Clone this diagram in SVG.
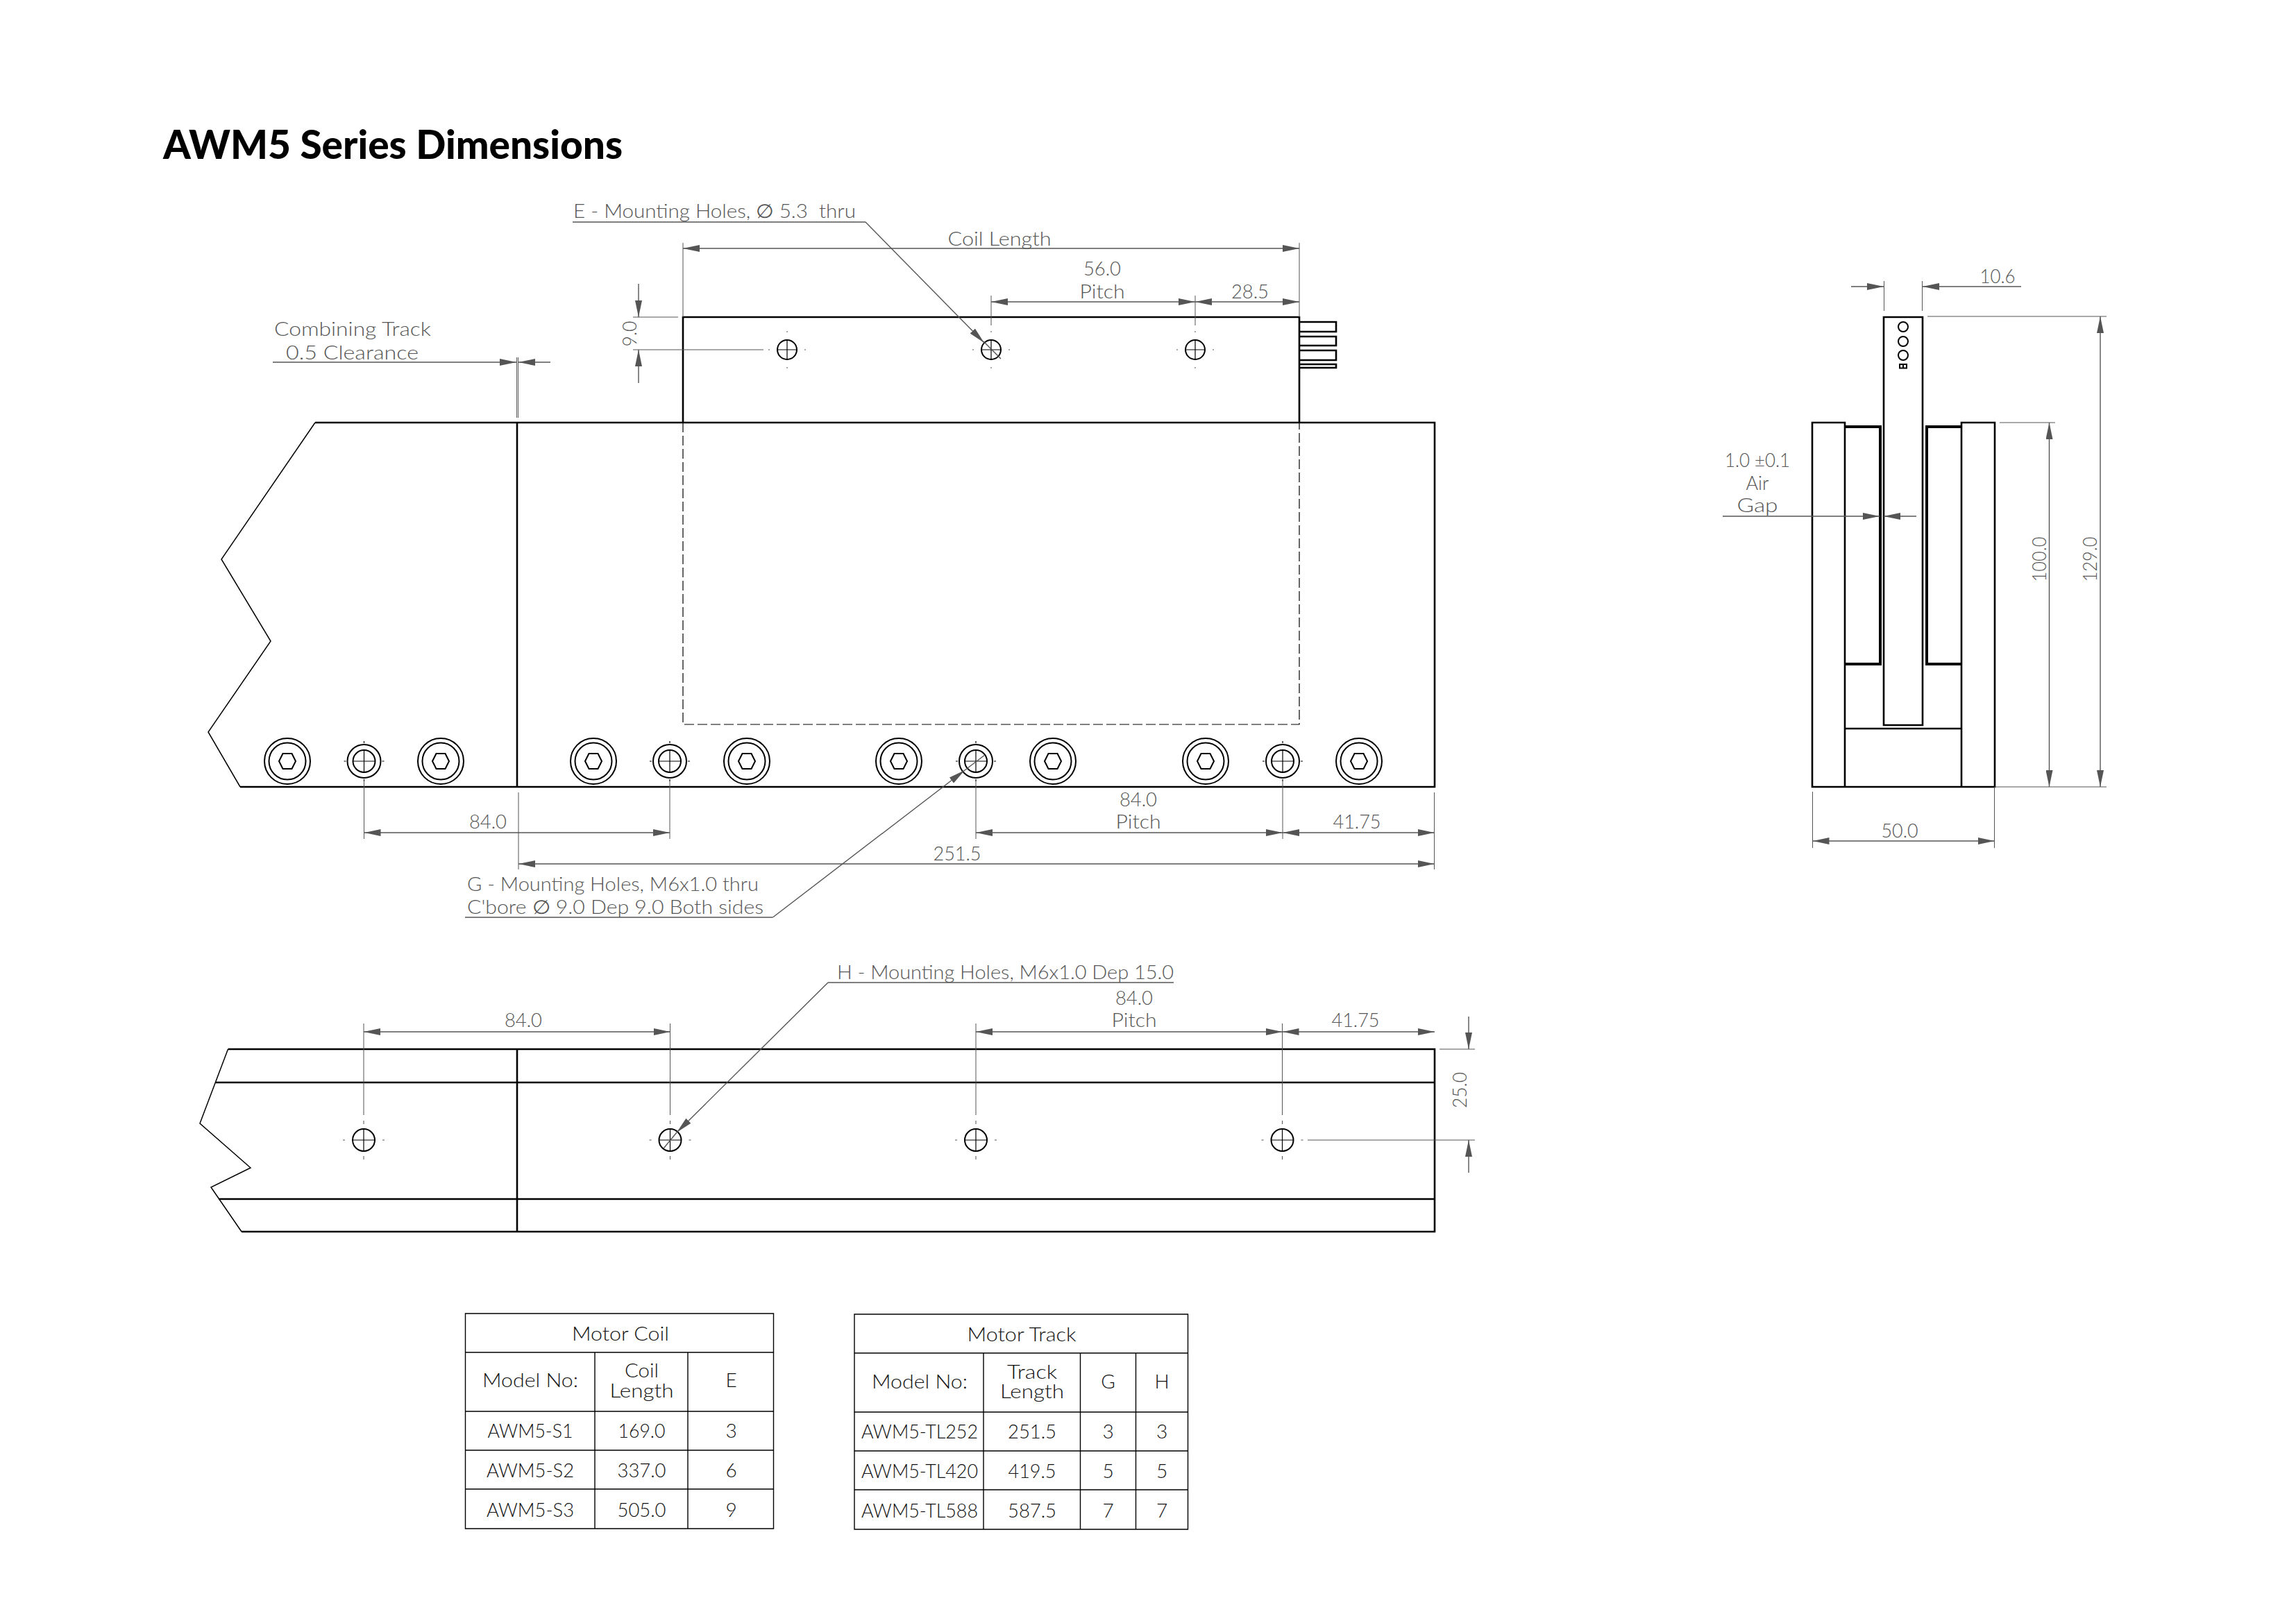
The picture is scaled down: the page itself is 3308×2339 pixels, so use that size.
<svg xmlns="http://www.w3.org/2000/svg" width="3308" height="2339" viewBox="0 0 3308 2339">
<style>
text{font-family:"Lato","Liberation Sans",sans-serif;font-weight:300;font-size:28px;fill:#555;white-space:pre;lengthAdjust:spacingAndGlyphs}
.c{text-anchor:middle}
.t text{fill:#111;font-size:28px}
#title{font-family:"Lato","Liberation Sans",sans-serif;font-weight:900;font-size:58px;fill:#000}
.o{fill:none;stroke:#000;stroke-width:2.6}
.m{fill:none;stroke:#000;stroke-width:4}
.s{fill:none;stroke:#000;stroke-width:1.2}
.p{fill:none;stroke:#000;stroke-width:1.5}
.h{fill:none;stroke:#000;stroke-width:2}
.x{fill:none;stroke:#555;stroke-width:1}
.d{fill:none;stroke:#555;stroke-width:1.4}
.a{marker-start:url(#ar);marker-end:url(#ar)}
.e{marker-end:url(#ar)}
.dash{fill:none;stroke:#000;stroke-width:1.2;stroke-dasharray:14 5}
.g{fill:none;stroke:#000;stroke-width:1.4}
</style>
<defs>
<marker id="ar" viewBox="0 0 24 10" refX="24" refY="5" markerWidth="24" markerHeight="10" markerUnits="userSpaceOnUse" orient="auto-start-reverse"><path d="M0,0 L24,5 L0,10 Z" fill="#555"/></marker>
<g id="screw"><circle r="33" class="h"/><circle r="26.5" class="h"/><path d="M-12,0 L-6.5,-11 H6.5 L12,0 L6.5,11 H-6.5 Z" class="h"/></g>
<g id="cb"><circle r="24" class="h"/><circle r="16" class="h"/><path d="M-16,0H16M0,-16V16M-29,0H-26M26,0H29M0,-29V-26M0,26V29" class="s"/></g>
<g id="ch"><circle r="14" class="h"/><path d="M-14,0H14M0,-14V14" class="s"/><path d="M-27,0H-25M25,0H27M0,-27V-25M0,25V27" class="x"/></g>
<g id="th"><circle r="16" class="h"/><path d="M-16,0H16M0,-16V16" class="s"/><path d="M-30,0H-27M27,0H30M0,-28V-23M0,23V28" class="x"/></g>
</defs>
<rect width="3308" height="2339" fill="#fff"/>
<text id="title" x="235" y="229" textLength="662" lengthAdjust="spacingAndGlyphs">AWM5 Series Dimensions</text>

<g id="front-view">
<path class="o" d="M454,609H2067V1134H346"/>
<path class="p" d="M454,609L319,806L390,924L300,1055L346,1134"/>
<path class="o" d="M745,609V1134"/>
<path class="o" d="M984,609V457H1872V609"/>
<path class="dash" d="M984,609V1044H1872V609"/>
<path class="o" d="M1872,464H1925V478H1872M1872,485H1925V498H1872M1872,505H1925V519H1872M1872,525H1925V530H1872"/>
<use href="#ch" x="1134" y="504"/><use href="#ch" x="1428" y="504"/><use href="#ch" x="1722" y="504"/>
<use href="#screw" x="414" y="1097"/><use href="#screw" x="635" y="1097"/><use href="#screw" x="855" y="1097"/><use href="#screw" x="1076" y="1097"/>
<use href="#screw" x="1295" y="1097"/><use href="#screw" x="1517" y="1097"/><use href="#screw" x="1737" y="1097"/><use href="#screw" x="1958" y="1097"/>
<use href="#cb" x="524.5" y="1097"/><use href="#cb" x="965" y="1097"/><use href="#cb" x="1406" y="1097"/><use href="#cb" x="1848" y="1097"/>
</g>

<g id="bottom-view">
<path class="o" d="M328.5,1512H2067V1775H348"/>
<path class="p" d="M328.5,1512L288,1619L361,1683L304,1711L348,1775"/>
<path class="o" d="M311,1560H2067M315,1728H2067M745,1512V1775"/>
<use href="#th" x="524" y="1643"/><use href="#th" x="965.5" y="1643"/><use href="#th" x="1406" y="1643"/><use href="#th" x="1847.5" y="1643"/>
</g>

<g id="side-view">
<path class="o" d="M2611,609H2658V1134H2611ZM2826,609H2874V1134H2826ZM2658,1134H2826M2658,1050H2826"/>
<path class="o" d="M2714,457H2770V1045H2714Z"/>
<path class="m" d="M2658,615H2709V957H2658M2826,615H2776V957H2826"/>
<circle class="h" cx="2742" cy="471" r="7"/><circle class="h" cx="2742" cy="492" r="7"/><circle class="h" cx="2742" cy="512" r="7"/>
<path class="h" d="M2737,525H2747V530.5H2737ZM2742,525V530.5"/>
</g>

<g id="connectors">
<path class="x" d="M984,350V457M1872,350V457M1428,426V469M1722,426V469M912,457H977M912,504H1100M744.5,515V602M746.5,515V602"/>
<path class="d a" d="M984,358H1872"/>
<path class="d a" d="M1428,435H1722"/>
<path class="d a" d="M1722,435H1872"/>
<path class="d e" d="M920,409V457"/><path class="d e" d="M920,552V504"/>
<path class="d e" d="M393,522H744"/><path class="d e" d="M793,522H747"/>
<path class="d" d="M825,320H1247"/><path class="d" d="M1417,492L1442,517"/><path class="d e" d="M1247,320L1418,494"/>
<path class="x" d="M524.5,1126V1209M965,1126V1209M1406,1126V1209M1848,1126V1209M747,1142V1253M2066.5,1142V1253"/>
<path class="d a" d="M524.5,1200H965"/><path class="d a" d="M1406,1200H1848"/><path class="d a" d="M1848,1200H2066.5"/><path class="d a" d="M747,1245H2066.5"/>
<path class="d" d="M670,1322H1113.5M1390,1110L1419,1088"/><path class="d e" d="M1113.5,1322L1390,1110"/>
<path class="x" d="M524,1475V1607M965.5,1475V1607M1406,1475V1607M1847.5,1475V1607M2074,1512H2125M1884,1643H2125"/>
<path class="d a" d="M524,1487H965.5"/><path class="d a" d="M1406,1487H1847.5"/><path class="d a" d="M1847.5,1487H2067"/>
<path class="d e" d="M2116,1465V1512"/><path class="d e" d="M2116,1690V1643"/>
<path class="d" d="M1691,1416H1193M975,1632L956,1655"/><path class="d e" d="M1193,1416L975,1632"/>
<path class="x" d="M2714.5,405V448M2769.5,405V448M2881,609H2961M2777,456H3035M2874,1134H3035M2611.5,1141V1222M2873.5,1134V1222"/>
<path class="d e" d="M2667,413H2714"/><path class="d e" d="M2912,413H2770"/>
<path class="d e" d="M2482,744H2708"/><path class="d e" d="M2761,744H2714"/>
<path class="d a" d="M2952.5,609V1134"/><path class="d a" d="M3026,456V1134"/><path class="d a" d="M2611.5,1212H2873.5"/>
</g>

<g id="labels">
<text x="826" y="314" textLength="407" lengthAdjust="spacingAndGlyphs">E - Mounting Holes, ∅ 5.3  thru</text>
<text class="c" x="1440" y="354" textLength="149" lengthAdjust="spacingAndGlyphs">Coil Length</text>
<text class="c" x="1588" y="397" textLength="54" lengthAdjust="spacingAndGlyphs">56.0</text><text class="c" x="1588" y="430" textLength="65" lengthAdjust="spacingAndGlyphs">Pitch</text>
<text class="c" x="1801" y="430" textLength="54" lengthAdjust="spacingAndGlyphs">28.5</text>
<text x="395" y="484" textLength="226" lengthAdjust="spacingAndGlyphs">Combining Track</text>
<text x="412" y="518" textLength="191" lengthAdjust="spacingAndGlyphs">0.5 Clearance</text>
<text class="c" transform="translate(917,481) rotate(-90)" textLength="37" lengthAdjust="spacingAndGlyphs">9.0</text>
<text class="c" x="703" y="1194" textLength="54" lengthAdjust="spacingAndGlyphs">84.0</text>
<text class="c" x="1640" y="1162" textLength="54" lengthAdjust="spacingAndGlyphs">84.0</text><text class="c" x="1640" y="1194" textLength="65" lengthAdjust="spacingAndGlyphs">Pitch</text>
<text class="c" x="1955" y="1194" textLength="69" lengthAdjust="spacingAndGlyphs">41.75</text>
<text class="c" x="1379" y="1240" textLength="69" lengthAdjust="spacingAndGlyphs">251.5</text>
<text x="673" y="1284" textLength="420" lengthAdjust="spacingAndGlyphs">G - Mounting Holes, M6x1.0 thru</text>
<text x="673" y="1317" textLength="427" lengthAdjust="spacingAndGlyphs">C'bore ∅ 9.0 Dep 9.0 Both sides</text>
<text x="1206" y="1411" textLength="485" lengthAdjust="spacingAndGlyphs">H - Mounting Holes, M6x1.0 Dep 15.0</text>
<text class="c" x="754" y="1480" textLength="54" lengthAdjust="spacingAndGlyphs">84.0</text>
<text class="c" x="1634" y="1448" textLength="54" lengthAdjust="spacingAndGlyphs">84.0</text><text class="c" x="1634" y="1480" textLength="65" lengthAdjust="spacingAndGlyphs">Pitch</text>
<text class="c" x="1953" y="1480" textLength="69" lengthAdjust="spacingAndGlyphs">41.75</text>
<text class="c" transform="translate(2113,1571) rotate(-90)" textLength="52" lengthAdjust="spacingAndGlyphs">25.0</text>
<text class="c" x="2878" y="408" textLength="51" lengthAdjust="spacingAndGlyphs">10.6</text>
<text class="c" x="2532" y="673" textLength="94" lengthAdjust="spacingAndGlyphs">1.0 ±0.1</text><text class="c" x="2532" y="706" textLength="33" lengthAdjust="spacingAndGlyphs">Air</text><text class="c" x="2532" y="738" textLength="59" lengthAdjust="spacingAndGlyphs">Gap</text>
<text class="c" transform="translate(2948,806) rotate(-90)" textLength="65" lengthAdjust="spacingAndGlyphs">100.0</text>
<text class="c" transform="translate(3021,806) rotate(-90)" textLength="65" lengthAdjust="spacingAndGlyphs">129.0</text>
<text class="c" x="2737" y="1207" textLength="53" lengthAdjust="spacingAndGlyphs">50.0</text>
</g>

<g id="table-coil" class="t">
<path class="g" d="M670.5,1893H1114.5V2203H670.5ZM670.5,1949H1114.5M670.5,2034H1114.5M670.5,2090H1114.5M670.5,2146H1114.5M857,1949V2203M991,1949V2203"/>
<text class="c" x="894" y="1932" textLength="140" lengthAdjust="spacingAndGlyphs">Motor Coil</text>
<text class="c" x="764" y="1999" textLength="138" lengthAdjust="spacingAndGlyphs">Model No:</text><text class="c" x="924.5" y="1985" textLength="49" lengthAdjust="spacingAndGlyphs">Coil</text><text class="c" x="924.5" y="2014" textLength="92" lengthAdjust="spacingAndGlyphs">Length</text><text class="c" x="1053.5" y="1999">E</text>
<text class="c" x="764" y="2072" textLength="123" lengthAdjust="spacingAndGlyphs">AWM5-S1</text><text class="c" x="924.5" y="2072" textLength="68" lengthAdjust="spacingAndGlyphs">169.0</text><text class="c" x="1053.5" y="2072">3</text>
<text class="c" x="764" y="2129" textLength="126" lengthAdjust="spacingAndGlyphs">AWM5-S2</text><text class="c" x="924.5" y="2129" textLength="70" lengthAdjust="spacingAndGlyphs">337.0</text><text class="c" x="1053.5" y="2129">6</text>
<text class="c" x="764" y="2186" textLength="126" lengthAdjust="spacingAndGlyphs">AWM5-S3</text><text class="c" x="924.5" y="2186" textLength="70" lengthAdjust="spacingAndGlyphs">505.0</text><text class="c" x="1053.5" y="2186">9</text>
</g>

<g id="table-track" class="t">
<path class="g" d="M1231,1894H1711.5V2204H1231ZM1231,1950H1711.5M1231,2035H1711.5M1231,2091H1711.5M1231,2147H1711.5M1417,1950V2204M1556.5,1950V2204M1636.5,1950V2204"/>
<text class="c" x="1472" y="1933" textLength="157" lengthAdjust="spacingAndGlyphs">Motor Track</text>
<text class="c" x="1325" y="2001" textLength="138" lengthAdjust="spacingAndGlyphs">Model No:</text><text class="c" x="1487" y="1987" textLength="72" lengthAdjust="spacingAndGlyphs">Track</text><text class="c" x="1487" y="2015" textLength="92" lengthAdjust="spacingAndGlyphs">Length</text><text class="c" x="1596.5" y="2001">G</text><text class="c" x="1674" y="2001">H</text>
<text class="c" x="1325" y="2073" textLength="168" lengthAdjust="spacingAndGlyphs">AWM5-TL252</text><text class="c" x="1487" y="2073" textLength="70" lengthAdjust="spacingAndGlyphs">251.5</text><text class="c" x="1596.5" y="2073">3</text><text class="c" x="1674" y="2073">3</text>
<text class="c" x="1325" y="2130" textLength="168" lengthAdjust="spacingAndGlyphs">AWM5-TL420</text><text class="c" x="1487" y="2130" textLength="69" lengthAdjust="spacingAndGlyphs">419.5</text><text class="c" x="1596.5" y="2130">5</text><text class="c" x="1674" y="2130">5</text>
<text class="c" x="1325" y="2187" textLength="168" lengthAdjust="spacingAndGlyphs">AWM5-TL588</text><text class="c" x="1487" y="2187" textLength="70" lengthAdjust="spacingAndGlyphs">587.5</text><text class="c" x="1596.5" y="2187">7</text><text class="c" x="1674" y="2187">7</text>
</g>
</svg>
